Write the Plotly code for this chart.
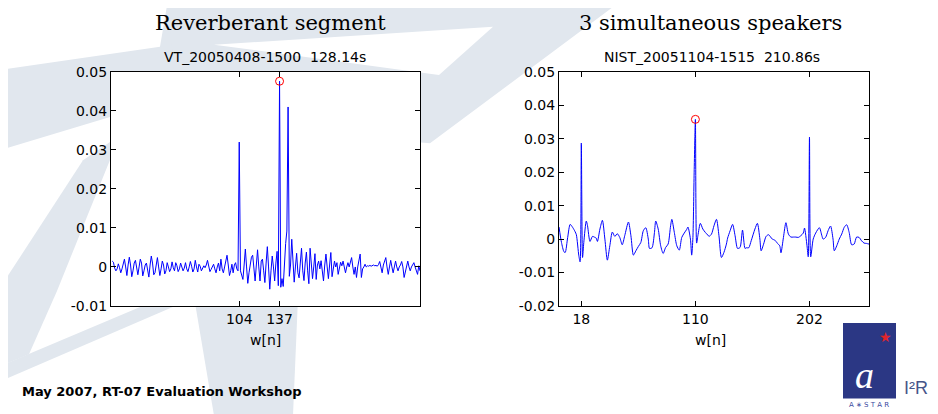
import plotly.graph_objects as go

# ---------------- data ----------------
# Left panel: VT_20050408-1500 128.14s, w[n] per sample (values in units of 1e-3)
vt_n_start = 0
vt_w_milli = [
    1.5, 1.2, -0.3, -1.0, -0.5, 0.8, -0.2, -1.5, -0.5, 1.0,
    2.0, 0.0, -2.2, 0.5, 2.5, 0.5, -2.5, -1.0, 1.0, 1.7,
    -0.5, -2.0, 0.0, 2.0, 1.0, -2.3, -1.0, 0.5, 1.0, -1.5,
    -2.6, 0.5, 2.8, 1.0, -2.0, -1.5, 1.0, 2.4, 0.0, -2.2,
    -0.5, 1.5, 0.5, -1.8, -1.0, 1.1, 0.0, -1.2, -0.5, 1.3,
    -0.2, -1.0, 1.1, 0.3, -1.2, -0.5, 1.0, 0.0, -1.0, -0.3,
    1.1, -0.5, -1.2, 0.0, 1.4, 0.2, -1.3, -0.5, 1.7, 0.0,
    -1.3, 0.7, 0.2, -1.0, -0.5, 0.3, -0.2, 0.5, 1.7, 0.0,
    -1.2, -0.6, 0.3, 0.7, -0.5, -1.5, 0.0, 1.0, -1.0, 2.0,
    -0.5, -1.5, 0.0, 2.0, 3.0, 0.5, -2.2, -1.0, 0.7, -1.5,
    0.5, 1.1, -0.5, -1.0, 32.0, -1.0, -2.0, -3.2, 0.5, 4.6,
    0.0, -4.2, -1.5, 1.0, 2.5, 3.0, -1.0, -3.6, 0.5, 4.4,
    0.0, -3.6, 1.5, 2.0, -1.0, -4.0, 1.0, 5.2, 0.0, -5.7,
    -1.0, 2.8, 0.0, -3.6, 1.0, 4.0, -4.8, 47.6, -5.2, -3.0,
    -5.0, 1.0, 6.0, 9.2, 41.0, -2.4, 0.5, 7.1, 0.0, -3.9,
    0.0, 3.5, -1.5, -2.8, 1.0, 4.8, -1.0, -3.5, 1.0, 3.8,
    -1.0, -4.3, 4.8, 0.5, -3.0, 0.0, 3.4, -3.2, 0.5, 1.5,
    -0.5, 1.6, -1.0, -3.6, 0.5, 3.3, 0.0, -3.0, 0.5, 3.7,
    -2.5, -0.5, 1.5, 0.0, 1.1, -1.9, 0.0, 1.2, 0.3, 1.5,
    0.0, -1.5, 0.0, 1.1, 0.0, 1.0, 2.4, 0.0, -1.9, 0.0,
    -2.7, 0.0, 1.5, 3.3, -2.7, -0.5, 0.0, 0.7, 0.0, 0.3,
    0.2, 0.4, 0.2, 0.3, 0.5, 0.3, 0.4, 0.2, 0.6, 1.4,
    0.0, -1.5, 0.5, 1.5, 2.4, 0.0, -1.9, 0.0, 1.7, 0.0,
    -1.5, 0.0, 1.5, 0.0, -1.0, 0.0, 0.5, 1.4, 0.0, -2.7,
    -1.0, 0.5, 1.5, 0.0, -1.0, 0.0, 0.5, 1.1, 0.0, -1.2,
    -1.9, 0.3, -1.0,
]
vt_peak_n = [137]
vt_peak_w = [0.0476]
vt_xticks = [104, 137]

# Right panel: NIST_20051104-1515 210.86s, vertices of w[n] (values in units of 1e-3)
nist_n = [0, 2, 4, 5, 7, 9, 11, 13, 14, 16, 17, 18, 19, 20, 22, 23, 25, 27, 29, 30,
          31, 33, 35, 37, 39, 41, 43, 45, 47, 49, 51, 53, 56, 58, 60, 62, 64, 66, 68, 70,
          72, 73, 75, 77, 78, 80, 82, 84, 86, 88, 90, 91, 93, 95, 97, 99, 101, 103, 104, 106,
          107, 108, 109, 110, 111, 112, 114, 116, 118, 120, 121, 123, 125, 127, 129, 131, 133, 135, 136, 138,
          140, 142, 144, 146, 148, 150, 151, 153, 155, 158, 160, 162, 163, 165, 167, 169, 172, 174, 176, 178,
          179, 181, 183, 185, 187, 189, 191, 193, 195, 197, 198, 200, 201, 202, 203, 205, 207, 210, 212, 213,
          215, 217, 219, 221, 222, 224, 226, 228, 230, 232, 234, 236, 238, 240, 242, 244, 246, 248, 250]
nist_w_milli = [3.6, -1.0, -3.8, -4.0, 0.5, 4.4, 3.5, 2.2, 1.3, -5.0, -6.8, 28.7, -5.5, -1.0, 5.4, 4.0, -0.7, 0.8, 0.5, 0.3,
                -0.7, 3.0, 5.6, 0.0, -6.3, -2.0, 2.1, 0.8, 1.6, 0.5, -1.7, 1.0, 5.1, 1.0, -4.8, -3.5, -2.2, -1.0, 2.5, 3.4,
                0.0, -2.8, -2.6, 2.0, 5.4, 3.0, -2.0, -4.3, -2.5, -1.5, 4.0, 5.9, 2.0, -2.0, -3.3, 0.5, 1.8, 2.9, 3.6, 0.0,
                -4.8, 0.5, 20.0, 35.8, -1.2, 1.0, 4.7, 3.0, 2.0, 1.2, 0.8, 1.5, 4.0, 5.9, 1.0, -5.5, -4.0, -1.5, 0.3, 2.5,
                4.4, 1.0, -2.8, -2.5, 2.7, -2.8, -2.6, -2.6, -0.5, 3.0, 4.7, 0.0, -3.5, -1.5, 0.8, 1.3, 0.0, -0.3, -1.2, -2.0,
                -4.1, 0.5, 4.9, 1.5, 0.6, 0.6, 0.6, 0.5, 1.0, 1.8, 3.3, -2.0, -5.3, 30.5, -5.3, 0.0, 1.8, 3.4, 1.0, 0.0,
                0.5, 2.5, 3.9, 0.0, -3.5, -2.0, 0.0, 1.5, 3.5, 4.3, 2.0, -1.7, -1.5, 0.6, 0.5, -0.5, -1.2, -1.3, -1.5]
nist_peak_n = [110]
nist_peak_w = [0.0358]
nist_xticks = [18, 110, 202]

left_yticks = [-0.01, 0, 0.01, 0.02, 0.03, 0.04, 0.05]
left_ytext = ["-0.01", "0", "0.01", "0.02", "0.03", "0.04", "0.05"]
right_yticks = [-0.02, -0.01, 0, 0.01, 0.02, 0.03, 0.04, 0.05]
right_ytext = ["-0.02", "-0.01", "0", "0.01", "0.02", "0.03", "0.04", "0.05"]

titles = ["Reverberant segment", "3 simultaneous speakers"]
subtitles = ["VT_20050408-1500\u00a0\u00a0128.14s", "NIST_20051104-1515\u00a0\u00a0210.86s"]
footer = "May 2007, RT-07 Evaluation Workshop"

# ---------------- figure geometry ----------------
# The page body adds an 8px margin; the photographed page is also slightly
# compressed vertically, so target window pixels are mapped back to paper pixels.
OFFX = 8
Y0, YS = 16.4, 0.957
W, H = 938 - 2 * OFFX, 416


def px(x):
    return (x - OFFX) / W


def py(t):
    return 1 - ((t - Y0) / YS) / H


vt_n = list(range(vt_n_start, vt_n_start + len(vt_w_milli)))
vt_w = [v / 1000 for v in vt_w_milli]
nist_w = [v / 1000 for v in nist_w_milli]

fig = go.Figure()
blue = "#0000ff"
fig.add_trace(go.Scatter(x=vt_n, y=vt_w, mode="lines", line=dict(color=blue, width=1),
                         xaxis="x", yaxis="y", showlegend=False, hoverinfo="skip"))
fig.add_trace(go.Scatter(x=vt_peak_n, y=vt_peak_w, mode="markers",
                         marker=dict(symbol="circle-open", size=8, color="red", line=dict(width=1)),
                         xaxis="x", yaxis="y", showlegend=False))
fig.add_trace(go.Scatter(x=nist_n, y=nist_w, mode="lines",
                         line=dict(color=blue, width=1, shape="spline", smoothing=0.7),
                         xaxis="x2", yaxis="y2", showlegend=False, hoverinfo="skip"))
fig.add_trace(go.Scatter(x=nist_peak_n, y=nist_peak_w, mode="markers",
                         marker=dict(symbol="circle-open", size=8, color="red", line=dict(width=1)),
                         xaxis="x2", yaxis="y2", showlegend=False))

L1, R1 = 111, 420
L2, R2 = 559, 869
T, B = 72, 305

tickfont = dict(family="DejaVu Sans", size=14, color="black")
axcommon = dict(showline=True, linecolor="black", linewidth=1.3, mirror="ticks", ticks="inside",
                ticklen=5, tickwidth=1, tickcolor="black", showgrid=False, zeroline=False,
                tickfont=tickfont, fixedrange=True)

fig.update_layout(
    width=W, height=H, autosize=False,
    margin=dict(l=0, r=0, t=0, b=0),
    paper_bgcolor="white", plot_bgcolor="rgba(0,0,0,0)",
    xaxis=dict(domain=[px(L1), px(R1)], range=[-1, 252], tickvals=vt_xticks,
               ticktext=[str(v) for v in vt_xticks], anchor="y", **axcommon),
    yaxis=dict(domain=[py(B), py(T)], range=[-0.01, 0.05], tickvals=left_yticks,
               ticktext=left_ytext, anchor="x", **axcommon),
    xaxis2=dict(domain=[px(L2), px(R2)], range=[0, 250], tickvals=nist_xticks,
                ticktext=[str(v) for v in nist_xticks], anchor="y2", **axcommon),
    yaxis2=dict(domain=[py(B), py(T)], range=[-0.02, 0.05], tickvals=right_yticks,
                ticktext=right_ytext, anchor="x2", **axcommon),
)

# ---------------- background watermark ----------------
grey = "#e1e7ee"


def poly(pts, color):
    d = "M " + " L ".join(f"{px(x):.5f},{py(y):.5f}" for x, y in pts) + " Z"
    return dict(type="path", xref="paper", yref="paper", path=d, fillcolor=color,
                line=dict(width=0), layer="below")


shapes = [
    poly([(0, 70), (160, 47), (168, 0), (623, 0), (430, 143), (110, 117), (0, 150)], grey),
    poly([(168, 0), (214, 0), (300, 250), (293, 414), (214, 414), (193, 290)], grey),
    poly([(0, 287), (83, 160), (120, 135), (57, 290), (29, 353), (0, 365)], grey),
    poly([(0, 365), (178, 290), (196, 296), (0, 380)], grey),
    poly([(214, 45), (493, 27), (439, 75)], "white"),
    # white plot areas
    dict(type="rect", xref="paper", yref="paper", x0=px(L1), x1=px(R1), y0=py(B), y1=py(T),
         fillcolor="white", line=dict(width=0), layer="below"),
    dict(type="rect", xref="paper", yref="paper", x0=px(L2), x1=px(R2), y0=py(B), y1=py(T),
         fillcolor="white", line=dict(width=0), layer="below"),
    # logo box
    dict(type="rect", xref="paper", yref="paper", x0=px(843), x1=px(896), y0=py(397), y1=py(322),
         fillcolor="#2b3784", line=dict(width=0), layer="above"),
]
fig.update_layout(shapes=shapes)

ann = []


def txt(x, y, s, size, family="DejaVu Sans", color="black", xanchor="center", **kw):
    ann.append(dict(x=px(x), y=py(y), xref="paper", yref="paper", text=s, showarrow=False,
                    xanchor=xanchor, yanchor="middle", font=dict(family=family, size=size, color=color), **kw))


txt(270, 23, titles[0], 21, family="DejaVu Serif")
txt(710, 23, titles[1], 21, family="DejaVu Serif")
txt(265, 57, subtitles[0], 14)
txt(712, 57, subtitles[1], 14)
txt(265, 339, "w[n]", 14)
txt(710, 339, "w[n]", 14)
txt(20, 390, "<b>" + footer + "</b>", 13, xanchor="left")
# logo texts
txt(864, 374, "<i>a</i>", 38, family="Liberation Serif", color="white")
txt(885, 336, "\u2605", 14, color="#e0252b")
txt(869, 404, "A \u2217 S T A R", 7, color="#3b4aa0")
txt(916, 387, "I\u00b2R", 18, family="Liberation Sans", color="#46558a")
fig.update_layout(annotations=ann)

fig.write_html("out.html")
